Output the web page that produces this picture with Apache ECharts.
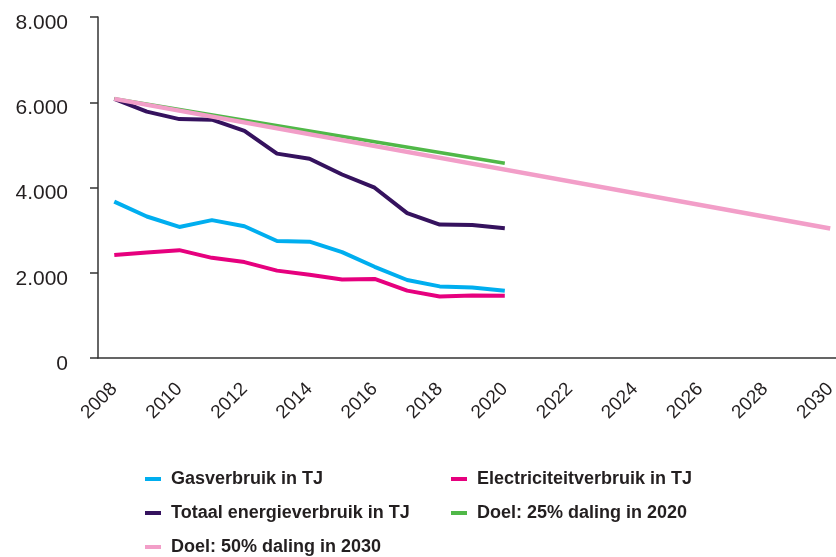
<!DOCTYPE html>
<html>
<head>
<meta charset="utf-8">
<script src="https://cdn.jsdelivr.net/npm/echarts@6/dist/echarts.min.js"></script>
<style>html,body{margin:0;padding:0;background:#fff;}#c{width:836px;height:557px;}</style>
</head>
<body>
<div id="c"></div>
<script>
const years = ['2008','2009','2010','2011','2012','2013','2014','2015','2016','2017','2018','2019','2020','2021','2022','2023','2024','2025','2026','2027','2028','2029','2030'];
const gas = [3670, 3320, 3075, 3235, 3090, 2745, 2730, 2485, 2140, 1830, 1680, 1655, 1580];
const elec = [2415, 2475, 2530, 2350, 2250, 2050, 1955, 1840, 1855, 1580, 1445, 1465, 1460];
const totaal = [6080, 5780, 5605, 5590, 5330, 4795, 4675, 4305, 3995, 3400, 3130, 3120, 3045];
const doel2020 = {2008: 6080, 2020: 4570};
const doel2030 = {2008: 6080, 2030: 3040};
const names = ['Gasverbruik in TJ', 'Electriciteitverbruik in TJ', 'Totaal energieverbruik in TJ', 'Doel: 25% daling in 2020', 'Doel: 50% daling in 2030'];
const colors = ['#00aeef', '#e6007e', '#35125e', '#50b848', '#f29ec8'];

function sparse(obj){ return years.map(y => (obj[y] !== undefined ? obj[y] : null)); }

const chart = echarts.init(document.getElementById('c'));
const lgText = {fontFamily:'Liberation Sans, Arial', fontWeight:'bold', fontSize:18, color:'#231f20', padding:[0,0,0,5]};
function lg(name, left, top){
  return {data:[name], left:left, top:top, padding:0, itemWidth:16, itemHeight:4, icon:'rect', textStyle:lgText, selectedMode:false};
}
chart.setOption({
  animation:false,
  color: colors,
  grid:{left:98, top:17, bottom:199, right:-10.5, containLabel:false, outerBoundsMode:'none'},
  legend:[
    lg(names[0], 145, 470), lg(names[2], 145, 504), lg(names[4], 145, 538),
    lg(names[1], 451, 470), lg(names[3], 451, 504)
  ],
  xAxis:{
    type:'category', data: years, boundaryGap:true,
    axisLine:{lineStyle:{color:'#333', width:1.5}},
    axisTick:{show:false},
    axisLabel:{interval:1, rotate:45, margin:28, fontFamily:'Liberation Sans, Arial', fontSize:19, color:'#231f20'}
  },
  yAxis:{
    type:'value', min:0, max:8000, interval:2000,
    splitLine:{show:false},
    axisLine:{show:true, lineStyle:{color:'#333', width:1.5}},
    axisTick:{show:true, length:8, lineStyle:{color:'#333', width:1.5}},
    axisLabel:{margin:30, verticalAlign:'top', lineHeight:12, fontFamily:'Liberation Sans, Arial', fontSize:21, color:'#231f20',
      formatter: v => v === 0 ? '0' : String(v).replace(/(\d)(?=(\d{3})+$)/g, '$1.')}
  },
  series:[
    {name:names[0], type:'line', data:gas, symbol:'none', lineStyle:{width:4, color:colors[0]}},
    {name:names[1], type:'line', data:elec, symbol:'none', lineStyle:{width:4, color:colors[1]}},
    {name:names[2], type:'line', data:totaal, symbol:'none', lineStyle:{width:4, color:colors[2]}},
    {name:names[3], type:'line', data:sparse(doel2020), connectNulls:true, symbol:'none', lineStyle:{width:3.5, color:colors[3]}},
    {name:names[4], type:'line', data:sparse(doel2030), connectNulls:true, symbol:'none', lineStyle:{width:4.5, color:colors[4]}}
  ]
});
</script>
</body>
</html>
